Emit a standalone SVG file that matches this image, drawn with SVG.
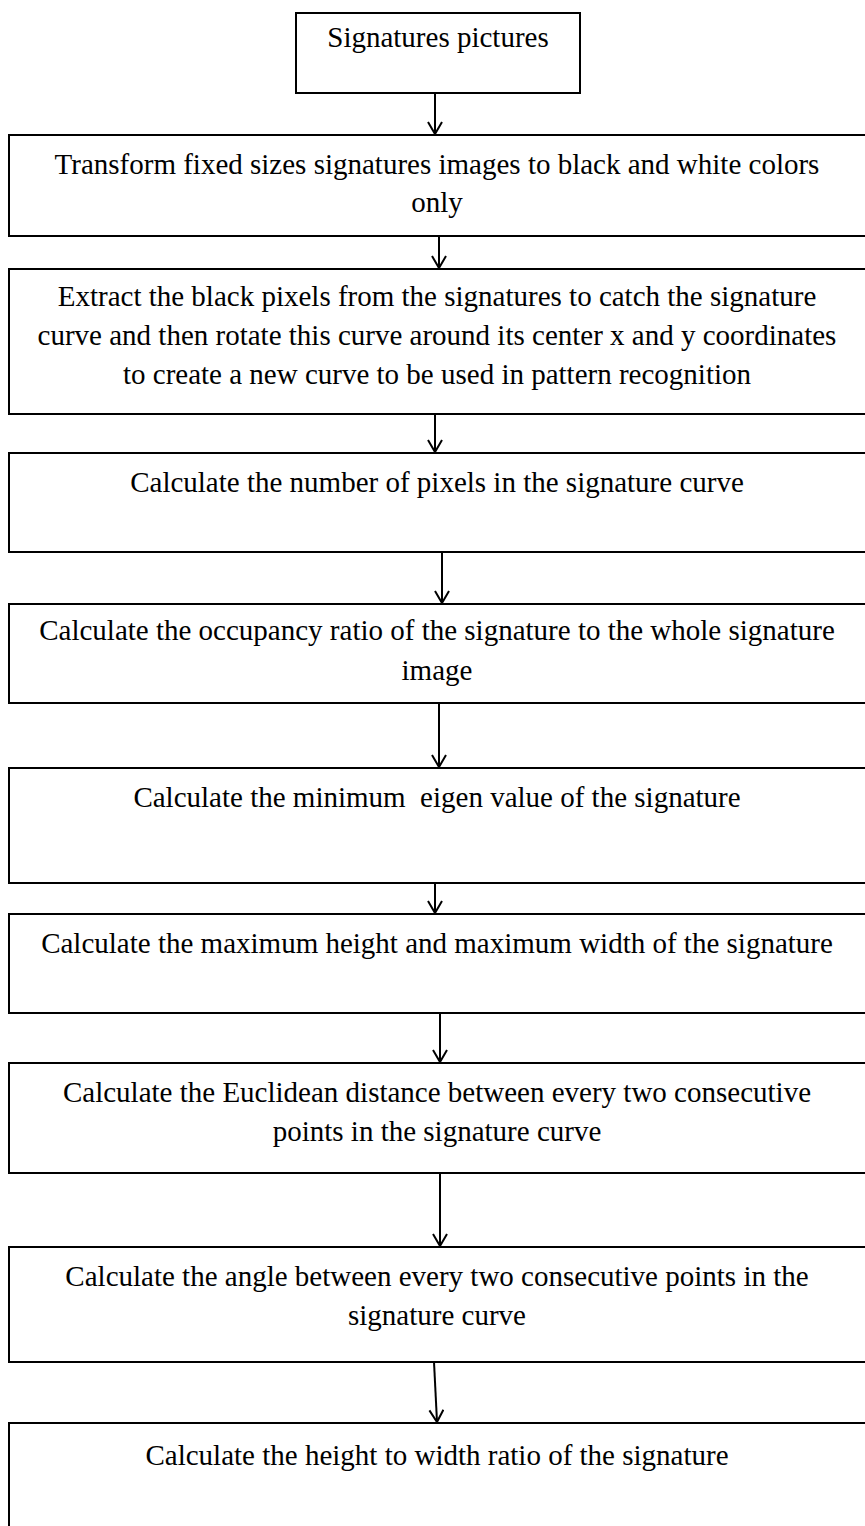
<svg xmlns="http://www.w3.org/2000/svg" width="865" height="1526" viewBox="0 0 865 1526">
<style>
.box{fill:#fff;stroke:#000;stroke-width:2}
.t{font-family:"Liberation Serif","Times New Roman",serif;font-size:29px;fill:#000;text-anchor:middle}
.c{stroke:#000;stroke-width:2;fill:none}
</style>
<defs>
<marker id="ah" markerWidth="16" markerHeight="16" refX="13" refY="8" orient="auto" markerUnits="userSpaceOnUse" viewBox="0 0 16 16">
<path d="M1,1 L13,8 L1,15" fill="none" stroke="#000" stroke-width="2"/>
</marker>
</defs>
<rect width="865" height="1526" fill="#fff"/>
<g id="n1"><rect class="box" x="296" y="13" width="284" height="80"/><text class="t" x="438" y="47">Signatures pictures</text></g>
<g id="n2"><rect class="box" x="9" y="135" width="870" height="101"/><text class="t" x="437" y="174">Transform fixed sizes signatures images to black and white colors</text><text class="t" x="437" y="212">only</text></g>
<g id="n3"><rect class="box" x="9" y="269" width="870" height="145"/><text class="t" x="437" y="306">Extract the black pixels from the signatures to catch the signature</text><text class="t" x="437" y="345">curve and then rotate this curve around its center x and y coordinates</text><text class="t" x="437" y="384">to create a new curve to be used in pattern recognition</text></g>
<g id="n4"><rect class="box" x="9" y="453" width="870" height="99"/><text class="t" x="437" y="492">Calculate the number of pixels in the signature curve</text></g>
<g id="n5"><rect class="box" x="9" y="604" width="870" height="99"/><text class="t" x="437" y="640">Calculate the occupancy ratio of the signature to the whole signature</text><text class="t" x="437" y="680">image</text></g>
<g id="n6"><rect class="box" x="9" y="768" width="870" height="115"/><text class="t" x="437" y="807" xml:space="preserve">Calculate the minimum  eigen value of the signature</text></g>
<g id="n7"><rect class="box" x="9" y="914" width="870" height="99"/><text class="t" x="437" y="953">Calculate the maximum height and maximum width of the signature</text></g>
<g id="n8"><rect class="box" x="9" y="1063" width="870" height="110"/><text class="t" x="437" y="1102">Calculate the Euclidean distance between every two consecutive</text><text class="t" x="437" y="1141">points in the signature curve</text></g>
<g id="n9"><rect class="box" x="9" y="1247" width="870" height="115"/><text class="t" x="437" y="1286">Calculate the angle between every two consecutive points in the</text><text class="t" x="437" y="1325">signature curve</text></g>
<g id="n10"><rect class="box" x="9" y="1423" width="870" height="120"/><text class="t" x="437" y="1465">Calculate the height to width ratio of the signature</text></g>
<g id="connectors">
<line class="c" x1="435" y1="93" x2="435" y2="134" marker-end="url(#ah)"/>
<line class="c" x1="439" y1="236" x2="439" y2="268" marker-end="url(#ah)"/>
<line class="c" x1="435" y1="414" x2="435" y2="452" marker-end="url(#ah)"/>
<line class="c" x1="442" y1="552" x2="442" y2="603" marker-end="url(#ah)"/>
<line class="c" x1="439" y1="703" x2="439" y2="767" marker-end="url(#ah)"/>
<line class="c" x1="435" y1="883" x2="435" y2="913" marker-end="url(#ah)"/>
<line class="c" x1="440" y1="1013" x2="440" y2="1062" marker-end="url(#ah)"/>
<line class="c" x1="440" y1="1173" x2="440" y2="1246" marker-end="url(#ah)"/>
<line class="c" x1="434" y1="1362" x2="437" y2="1422" marker-end="url(#ah)"/>
</g>
</svg>
